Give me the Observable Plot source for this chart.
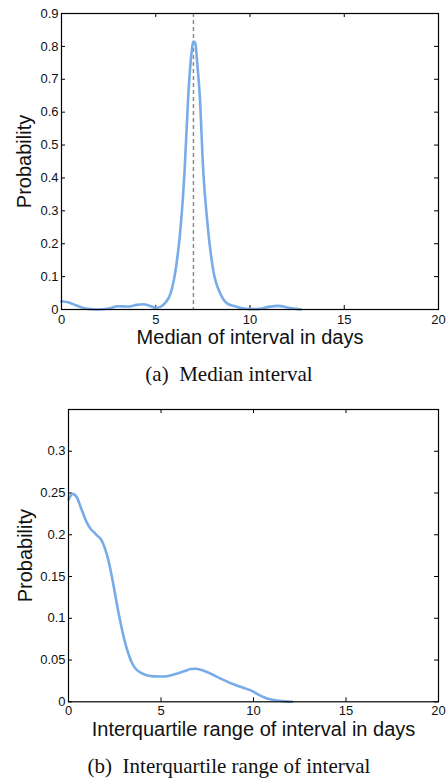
<!DOCTYPE html>
<html><head><meta charset="utf-8">
<script src="https://cdn.jsdelivr.net/npm/d3@7"></script>
<script src="https://cdn.jsdelivr.net/npm/@observablehq/plot@0.6"></script>
<style>
body{margin:0;background:#fff;width:448px;overflow:hidden;}
svg{display:block;}
.cap{font-family:"Liberation Serif","Times New Roman",serif;font-size:21px;text-align:center;padding-left:10px;color:#111;white-space:nowrap;}
</style></head><body>
<div id="a"></div>
<div class="cap" style="height:48px;line-height:48px">(a)&ensp;Median interval</div>
<div id="b"></div>
<div class="cap" style="height:47px;line-height:47px">(b)&ensp;Interquartile range of interval</div>
<script>
const xTicks = [0, 5, 10, 15, 20];
const yTicksA = [0, 0.1, 0.2, 0.3, 0.4, 0.5, 0.6, 0.7, 0.8, 0.9];
const yTicksB = [0, 0.05, 0.1, 0.15, 0.2, 0.25, 0.3];
const medianMarker = [7];

const medianX = [0, 0.4, 0.8, 1.2, 1.6, 2.0, 2.5, 3.0, 3.5, 4.0, 4.3, 4.7, 5.0, 5.25, 5.5, 5.78, 6.05, 6.35, 6.53, 6.72, 6.88, 7.0, 7.1, 7.2, 7.34, 7.52, 7.73, 8.05, 8.43, 8.8, 9.2, 9.6, 10.0, 10.5, 11.0, 11.5, 12.0, 12.4, 12.7];
const medianP = [0.025, 0.021, 0.012, 0.004, 0.001, 0.000, 0.003, 0.010, 0.009, 0.014, 0.016, 0.011, 0.005, 0.008, 0.020, 0.048, 0.119, 0.27, 0.422, 0.644, 0.77, 0.815, 0.81, 0.75, 0.644, 0.422, 0.27, 0.119, 0.048, 0.018, 0.010, 0.004, 0.001, 0.002, 0.008, 0.011, 0.006, 0.002, 0.000];

const iqrX = [0, 0.22, 0.45, 0.66, 0.85, 1.03, 1.2, 1.38, 1.55, 1.74, 1.88, 2.01, 2.15, 2.28, 2.42, 2.55, 2.7, 2.82, 3.0, 3.18, 3.4, 3.63, 3.9, 4.27, 4.6, 4.98, 5.4, 5.89, 6.3, 6.6, 6.88, 7.2, 7.69, 8.2, 8.77, 9.3, 9.85, 10.2, 10.56, 10.9, 11.29, 11.7, 12.1];
const iqrP = [0.242, 0.249, 0.245, 0.233, 0.222, 0.213, 0.207, 0.203, 0.199, 0.195, 0.189, 0.181, 0.17, 0.157, 0.141, 0.125, 0.107, 0.094, 0.076, 0.0615, 0.048, 0.0396, 0.035, 0.0315, 0.0305, 0.0303, 0.031, 0.034, 0.037, 0.0392, 0.0396, 0.038, 0.0336, 0.028, 0.0223, 0.018, 0.0136, 0.0095, 0.0055, 0.003, 0.0016, 0.0005, 0];

const FONT = "'Liberation Sans', Arial, Helvetica, sans-serif";
const LINE = "#78ace8";
const fmt = d => String(+d.toFixed(2));

function chart({xs, ps, yDomain, yTicks, height, mt, mb, ml, mr, xlabel, xlabelDy, ylabelDx, xPad, marker}) {
  const W = 448;
  const innerH = height - mt - mb;
  const innerW = W - ml - mr;
  const data = xs.map((x, i) => ({x, p: ps[i]}));
  const marks = [
    Plot.tickX(xTicks, {x: d => d, insetTop: innerH - 4, stroke: "black", strokeWidth: 1}),
    Plot.tickX(xTicks, {x: d => d, insetBottom: innerH - 4, stroke: "black", strokeWidth: 1}),
    Plot.tickY(yTicks, {y: d => d, insetRight: innerW - 4, stroke: "black", strokeWidth: 1}),
    Plot.tickY(yTicks, {y: d => d, insetLeft: innerW - 4, stroke: "black", strokeWidth: 1}),
    Plot.axisX(xTicks, {tickSize: 0, tickPadding: xPad, fontSize: 13, label: null, tickFormat: fmt, fill: "#111"}),
    Plot.axisY(yTicks, {tickSize: 0, tickPadding: 3, fontSize: 13, label: null, tickFormat: fmt, fill: "#111"}),
  ];
  if (marker) marks.push(Plot.ruleX(marker, {x: d => d, stroke: "#8a8a8a", strokeWidth: 1.5, strokeDasharray: "4,3"}));
  marks.push(
    Plot.line(data, {x: "x", y: "p", stroke: LINE, strokeWidth: 2.6, curve: "monotone-x"}),
    Plot.frame({stroke: "black", strokeWidth: 1.2}),
    Plot.text([xlabel], {text: d => d, frameAnchor: "bottom", dy: xlabelDy, lineAnchor: "middle", textAnchor: "middle", fontSize: 20, fill: "#111"}),
    Plot.text(["Probability"], {text: d => d, frameAnchor: "left", dx: ylabelDx, rotate: -90, lineAnchor: "middle", textAnchor: "middle", fontSize: 20, fill: "#111"})
  );
  return Plot.plot({
    width: W, height,
    marginTop: mt, marginBottom: mb, marginLeft: ml, marginRight: mr,
    style: {fontFamily: FONT, fontSize: "13px", background: "white", color: "#111"},
    x: {domain: [0, 20], axis: null},
    y: {domain: yDomain, axis: null},
    marks
  });
}

document.getElementById("a").append(chart({
  xs: medianX, ps: medianP, yDomain: [0, 0.9], yTicks: yTicksA,
  height: 350, mt: 13, mb: 41, ml: 61, mr: 10,
  xlabel: "Median of interval in days", xlabelDy: 27.7, ylabelDx: -37, xPad: 5, marker: medianMarker
}));

document.getElementById("b").append(chart({
  xs: iqrX, ps: iqrP, yDomain: [0, 0.35], yTicks: yTicksB,
  height: 345, mt: 11, mb: 41.7, ml: 68, mr: 10,
  xlabel: "Interquartile range of interval in days", xlabelDy: 28, ylabelDx: -43, xPad: 4, marker: null
}));
</script>
</body></html>
